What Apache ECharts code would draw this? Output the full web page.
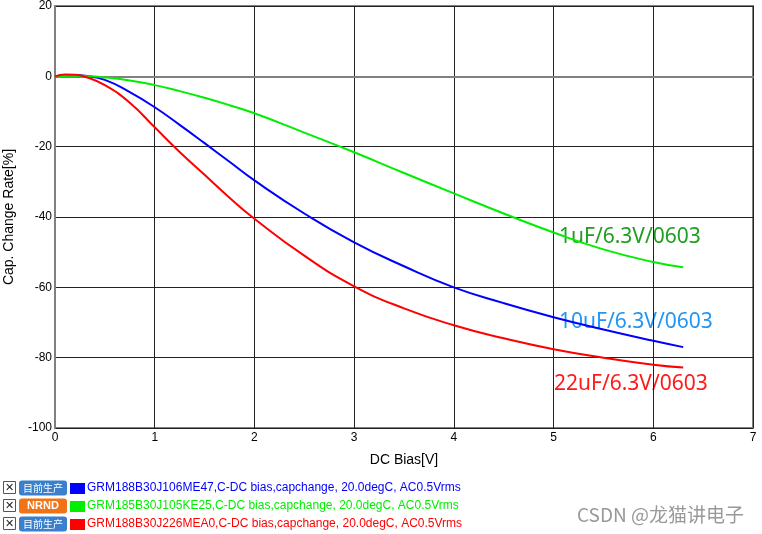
<!DOCTYPE html>
<html>
<head>
<meta charset="utf-8">
<script src="https://cdn.jsdelivr.net/npm/echarts@6/dist/echarts.min.js"></script>
<style>
  html, body { margin: 0; padding: 0; background: #fff; }
  #viz { width: 762px; height: 534px; }
</style>
</head>
<body>
<div id="viz"></div>
<script>
// DC bias curves
const biasV = [0, 0.1, 0.2, 0.3, 0.5, 0.75, 1, 1.25, 1.5, 1.75, 2, 2.5, 3, 3.5, 4, 4.5, 5, 5.5, 6, 6.3];
const cap10uF = [0, 0.3, 0.4, 0.2, -1, -4.5, -8.8, -13.8, -19, -24.3, -29.6, -39, -47.2, -54, -60, -64.5, -68.5, -72, -75.2, -77];
const cap1uF = [0, 0.1, 0.2, 0.1, -0.3, -1.2, -2.5, -4.2, -6.1, -8.2, -10.5, -16, -21.6, -27.5, -33.3, -39, -44.4, -49.2, -52.8, -54.3];
const cap22uF = [0, 0.55, 0.45, -0.1, -2.5, -7.5, -14.5, -21.5, -28, -34.5, -40.5, -51, -59.7, -66, -70.8, -74.5, -77.6, -80, -82, -82.8];

const seriesNames = [
    'GRM188B30J106ME47,C-DC bias,capchange, 20.0degC, AC0.5Vrms',
    'GRM185B30J105KE25,C-DC bias,capchange, 20.0degC, AC0.5Vrms',
    'GRM188B30J226MEA0,C-DC bias,capchange, 20.0degC, AC0.5Vrms'
];
const seriesColors = ['#0000ff', '#00ee00', '#ff0000'];
const badges = ['目前生产', 'NRND', '目前生产'];
const badgeColors = ['#3a80cc', '#f07318', '#3a80cc'];

const annotations = [
    { text: '1uF/6.3V/0603', color: '#1f9e1f', x: 559, y: 237 },
    { text: '10uF/6.3V/0603', color: '#2196f3', x: 559, y: 322 },
    { text: '22uF/6.3V/0603', color: '#ff1a1a', x: 554, y: 384 }
];

function pairs(ys) {
    return biasV.map((x, i) => [x, ys[i]]);
}

var myChart = echarts.init(document.getElementById('viz'));

// legend rows drawn as graphics at the bottom
const graphics = [];
seriesNames.forEach((name, i) => {
    const cy = 488 + i * 18;
    graphics.push({
        type: 'rect', shape: { x: 3.5, y: cy - 6.5, width: 12, height: 12 },
        style: { fill: '#fff', stroke: '#555', lineWidth: 1 }
    });
    graphics.push({
        type: 'text', x: 9.5, y: cy,
        style: { text: '✕', fill: '#222', font: '11px "DejaVu Sans"', align: 'center', verticalAlign: 'middle' }
    });
    graphics.push({
        type: 'rect', shape: { x: 19, y: cy - 7.5, width: 48, height: 15, r: 3 },
        style: { fill: badgeColors[i] }
    });
    graphics.push({
        type: 'text', x: 43, y: cy,
        style: {
            text: badges[i], fill: '#fff', align: 'center', verticalAlign: 'middle',
            font: badges[i] === 'NRND' ? 'bold 11px "Liberation Sans"' : '10px "Noto Sans CJK SC"'
        }
    });
    graphics.push({
        type: 'rect', shape: { x: 70, y: cy - 5, width: 15, height: 11 },
        style: { fill: seriesColors[i] }
    });
    graphics.push({
        type: 'text', x: 87, y: cy,
        style: { text: name, fill: seriesColors[i], font: '12px "Liberation Sans"', verticalAlign: 'middle' }
    });
});
annotations.forEach(a => {
    graphics.push({
        type: 'text', x: a.x, y: a.y,
        style: { text: a.text, fill: a.color, font: '21px "Noto Sans"', verticalAlign: 'middle' }
    });
});
graphics.push({
    type: 'text', x: 577, y: 515,
    style: { text: 'CSDN @龙猫讲电子', fill: '#999', font: '19px "Noto Sans CJK SC"', verticalAlign: 'middle' }
});

var option = {
    animation: false,
    grid: {
        left: 55, top: 6, right: 9, bottom: 106,
        outerBoundsMode: 'none',
        show: true, borderColor: '#808080', borderWidth: 2
    },
    xAxis: {
        type: 'value', min: 0, max: 7, interval: 1,
        name: 'DC Bias[V]', nameLocation: 'middle', nameGap: 25,
        nameTextStyle: { color: '#000', fontSize: 14, fontFamily: 'Liberation Sans' },
        axisLine: { lineStyle: { color: '#808080', width: 2 } },
        axisTick: { show: false },
        axisLabel: { color: '#000', fontSize: 12, fontFamily: 'Liberation Sans', margin: 4 },
        splitLine: { lineStyle: { color: '#222', width: 1 } }
    },
    yAxis: {
        type: 'value', min: -100, max: 20, interval: 20,
        name: 'Cap. Change Rate[%]', nameLocation: 'middle', nameGap: 39,
        nameTextStyle: { color: '#000', fontSize: 14, fontFamily: 'Liberation Sans' },
        axisLine: { show: true, lineStyle: { color: '#808080', width: 2 } },
        axisTick: { show: false },
        axisLabel: { color: '#000', fontSize: 12, fontFamily: 'Liberation Sans', margin: 3 },
        splitLine: { lineStyle: { color: '#222', width: 1 } }
    },
    series: [
        { name: seriesNames[0], type: 'line', data: pairs(cap10uF), smooth: true, showSymbol: false, lineStyle: { color: seriesColors[0], width: 2 } },
        { name: seriesNames[1], type: 'line', data: pairs(cap1uF), smooth: true, showSymbol: false, lineStyle: { color: seriesColors[1], width: 2 } },
        { name: seriesNames[2], type: 'line', data: pairs(cap22uF), smooth: true, showSymbol: false, lineStyle: { color: seriesColors[2], width: 2 } }
    ],
    graphic: graphics
};

myChart.setOption(option);
</script>
</body>
</html>
